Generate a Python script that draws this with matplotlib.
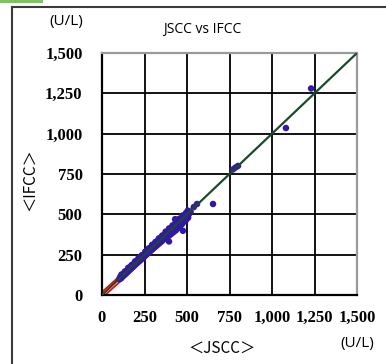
import numpy as np
import matplotlib
matplotlib.use('Agg')
import matplotlib.pyplot as plt
from matplotlib.lines import Line2D
from matplotlib.patches import Rectangle

# Data (U/L)
jscc = [102, 108, 112, 118, 121, 126, 130, 134, 138, 142, 146, 150, 153, 157, 161, 165,
        168, 172, 176, 180, 184, 188, 192, 196, 200, 204, 208, 212, 216, 220, 224, 228,
        232, 236, 240, 244, 248, 252, 256, 260, 264, 268, 272, 276, 280, 284, 288, 292,
        296, 300, 305, 310, 315, 320, 325, 330, 335, 340, 345, 350, 355, 360, 365, 370,
        375, 380, 386, 392, 398, 404, 410, 416, 422, 428, 434, 440, 446, 452, 458, 464,
        470, 476, 482, 488, 494, 500, 506, 512, 520]
ifcc = [98, 112, 104, 120, 115, 130, 124, 138, 131, 146, 140, 152, 147, 161, 155, 170,
        162, 176, 170, 184, 178, 192, 186, 200, 194, 208, 201, 216, 209, 225, 216, 232,
        224, 240, 232, 248, 240, 256, 247, 265, 255, 273, 262, 281, 270, 290, 278, 298,
        285, 306, 294, 316, 302, 325, 311, 338, 320, 348, 329, 357, 338, 366, 347, 376,
        356, 386, 362, 398, 372, 410, 382, 422, 392, 434, 402, 448, 415, 458, 426, 470,
        440, 478, 455, 488, 466, 495, 480, 505, 515]

# second row of points that widens the band
jscc2 = [115, 135, 155, 175, 195, 215, 235, 255, 275, 295, 315, 335, 355, 375, 395,
         415, 435, 455, 475, 495, 505]
ifcc2 = [126, 145, 168, 185, 208, 228, 246, 268, 288, 310, 328, 350, 368, 392, 412,
         430, 455, 472, 492, 508, 522]

# outliers
out_jscc = [394, 476, 460, 430, 559, 653, 540, 770, 785, 800, 1082, 1230]
out_ifcc = [332, 398, 462, 470, 564, 564, 545, 778, 790, 800, 1035, 1280]

ticks = [0, 250, 500, 750, 1000, 1250, 1500]
tick_labels = ['0', '250', '500', '750', '1,000', '1,250', '1,500']

fig = plt.figure(figsize=(3.86, 3.64), dpi=100)
ax = fig.add_axes([102/386, 69/364, 255/386, 242/364])

# regression band (hollow red) under the points
ax.plot([0, 505], [0, 482], color='red', lw=4.4, solid_capstyle='round', zorder=2)
ax.plot([0, 505], [0, 482], color='white', lw=1.8, solid_capstyle='round', zorder=2)

pt_color = '#3318a6'
ax.scatter(jscc, ifcc, s=24, color=pt_color, edgecolors='none', zorder=3)
ax.scatter(jscc2, ifcc2, s=24, color=pt_color, edgecolors='none', zorder=3)
ax.scatter(out_jscc, out_ifcc, s=22, color=pt_color, edgecolors='none', zorder=3)

ax.plot([0, 1500], [0, 1500], color='#1b4a2c', lw=1.6, zorder=4)

ax.set_xlim(0, 1500)
ax.set_ylim(0, 1500)
ax.set_xticks(ticks)
ax.set_yticks(ticks)
ax.set_xticklabels(tick_labels, family='Liberation Serif', weight='bold', fontsize=12)
ax.set_yticklabels(tick_labels, family='Liberation Serif', weight='bold', fontsize=12)
ax.tick_params(length=0)
ax.tick_params(axis='y', pad=14)
ax.tick_params(axis='x', pad=11)
ax.grid(True, color='black', lw=1.3)
ax.set_axisbelow(True)
for s in ['left', 'bottom']:
    ax.spines[s].set_color('black')
    ax.spines[s].set_linewidth(1.6)
for s in ['top', 'right']:
    ax.spines[s].set_color('#9a9a9a')
    ax.spines[s].set_linewidth(1.6)

fig.text(202/386, 1 - 30/364, 'JSCC vs IFCC', family='Open Sans', fontsize=10,
         ha='center', va='center')
fig.text(66/386, 1 - 22/364, '(U/L)', family='Open Sans', fontsize=11,
         ha='center', va='center')
fig.text(357/386, 1 - 343/364, '(U/L)', family='Open Sans', fontsize=11,
         ha='center', va='center')
fig.text(222/386, 1 - 348/364, '＜JSCC＞', family=['Noto Sans CJK JP', 'DejaVu Sans'],
         fontsize=11, ha='center', va='center')
fig.text(30/386, 1 - 180/364, '＜IFCC＞', family=['Noto Sans CJK JP', 'DejaVu Sans'],
         fontsize=11, ha='center', va='center', rotation=90)

# outer frame and green tab
fig.add_artist(Line2D([12/386, 12/386], [0, 1 - 7/364], color='#3a3a3a', lw=1.5))
fig.add_artist(Line2D([12/386, 1], [1 - 7/364, 1 - 7/364], color='#3a3a3a', lw=1.5))
fig.add_artist(Rectangle((0, 1 - 3/364), 43/386, 3/364, color='#7cc55a', lw=0))

fig.savefig('out.png', dpi=100)
